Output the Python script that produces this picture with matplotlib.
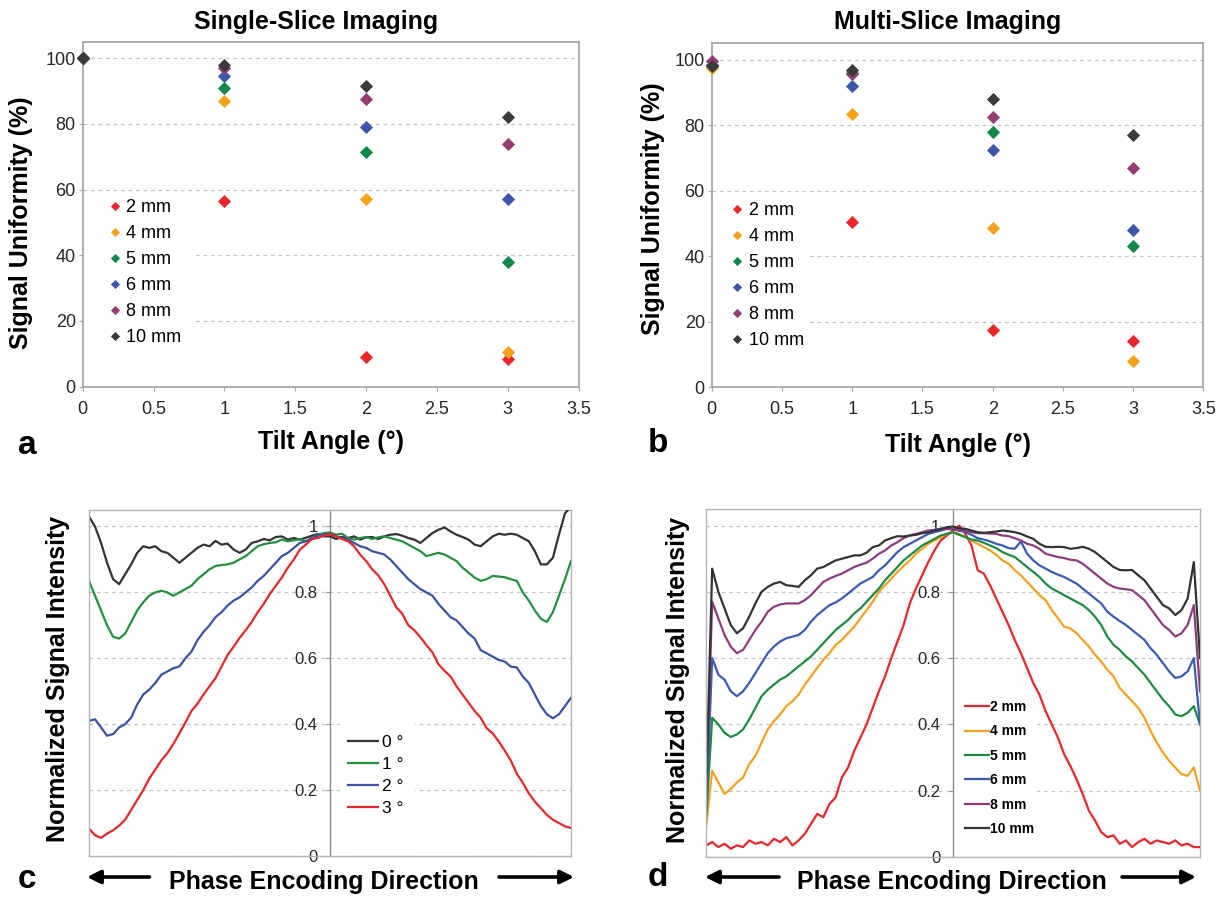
import numpy as np
import matplotlib
matplotlib.use('Agg')
import matplotlib.pyplot as plt
from matplotlib.patches import Rectangle
from matplotlib.ticker import FuncFormatter

plt.rcParams['font.family'] = ['Liberation Sans', 'DejaVu Sans']

W, H = 1229, 900

# ---------------- data: panels a / b (signal uniformity vs tilt) ----------------
tilt = [0, 1, 2, 3]
thickness = ['2 mm', '4 mm', '5 mm', '6 mm', '8 mm', '10 mm']
marker_colors = ['#e8272d', '#f6a11e', '#12874a', '#3c57a8', '#943d73', '#3a3a3a']

single_2mm = [100, 56.5, 9.0, 8.5]
single_4mm = [100, 87.0, 57.0, 10.5]
single_5mm = [100, 91.0, 71.5, 38.0]
single_6mm = [100, 94.5, 79.0, 57.0]
single_8mm = [100, 97.0, 87.5, 74.0]
single_10mm = [100, 98.0, 91.5, 82.0]

multi_2mm = [98.0, 50.5, 17.5, 14.0]
multi_4mm = [97.5, 83.5, 48.5, 8.0]
multi_5mm = [98.5, 96.0, 78.0, 43.0]
multi_6mm = [98.5, 92.0, 72.5, 48.0]
multi_8mm = [99.5, 95.5, 82.5, 67.0]
multi_10mm = [98.0, 97.0, 88.0, 77.0]

single_series = [single_2mm, single_4mm, single_5mm, single_6mm, single_8mm, single_10mm]
multi_series = [multi_2mm, multi_4mm, multi_5mm, multi_6mm, multi_8mm, multi_10mm]

# ---------------- data: panel c (profiles for tilt angles) ----------------
pos = np.arange(-40, 41)  # sample position along phase encoding direction

c_0deg = [1.03, 1.0, 0.95, 0.89, 0.84, 0.825, 0.855, 0.885, 0.92, 0.94,
          0.935, 0.94, 0.925, 0.92, 0.905, 0.89, 0.905, 0.92, 0.935, 0.945,
          0.94, 0.956, 0.945, 0.948, 0.93, 0.92, 0.93, 0.95, 0.955, 0.962,
          0.958, 0.968, 0.97, 0.96, 0.965, 0.96, 0.966, 0.972, 0.977, 0.97,
          0.97,
          0.962, 0.968, 0.965, 0.97, 0.96, 0.967, 0.968, 0.962, 0.97, 0.975,
          0.977, 0.972, 0.965, 0.96, 0.95, 0.965, 0.98, 0.99, 0.997, 0.985,
          0.975, 0.968, 0.96, 0.945, 0.94, 0.955, 0.97, 0.978, 0.975, 0.978,
          0.975, 0.965, 0.955, 0.925, 0.885, 0.885, 0.905, 0.975, 1.04, 1.06]
c_1deg = [0.835, 0.79, 0.745, 0.70, 0.665, 0.66, 0.675, 0.71, 0.745, 0.77,
          0.79, 0.80, 0.805, 0.80, 0.79, 0.80, 0.81, 0.82, 0.84, 0.855,
          0.87, 0.88, 0.883, 0.885, 0.89, 0.90, 0.91, 0.925, 0.94, 0.946,
          0.95, 0.952, 0.96, 0.955, 0.958, 0.962, 0.955, 0.965, 0.975, 0.98,
          0.982,
          0.975, 0.978, 0.965, 0.96, 0.965, 0.968, 0.962, 0.967, 0.97, 0.965,
          0.96, 0.955, 0.945, 0.935, 0.925, 0.91, 0.915, 0.92, 0.915, 0.905,
          0.895, 0.875, 0.86, 0.845, 0.835, 0.84, 0.85, 0.848, 0.846, 0.84,
          0.835, 0.80, 0.775, 0.745, 0.72, 0.71, 0.74, 0.79, 0.84, 0.895]
c_2deg = [0.41, 0.415, 0.39, 0.365, 0.37, 0.39, 0.40, 0.42, 0.46, 0.49,
          0.505, 0.525, 0.55, 0.56, 0.57, 0.575, 0.60, 0.62, 0.655, 0.68,
          0.70, 0.725, 0.74, 0.76, 0.775, 0.785, 0.80, 0.815, 0.835, 0.85,
          0.87, 0.89, 0.91, 0.92, 0.935, 0.95, 0.955, 0.965, 0.972, 0.975,
          0.977,
          0.97, 0.965, 0.96, 0.95, 0.94, 0.935, 0.925, 0.92, 0.915, 0.90,
          0.88, 0.86, 0.84, 0.825, 0.81, 0.80, 0.79, 0.765, 0.745, 0.725,
          0.715, 0.695, 0.675, 0.66, 0.625, 0.615, 0.605, 0.595, 0.59, 0.575,
          0.572, 0.545, 0.525, 0.49, 0.455, 0.43, 0.418, 0.43, 0.455, 0.48]
c_3deg = [0.083, 0.063, 0.055, 0.068, 0.078, 0.092, 0.11, 0.14, 0.17, 0.20,
          0.235, 0.262, 0.29, 0.312, 0.34, 0.372, 0.405, 0.44, 0.462, 0.49,
          0.515, 0.54, 0.575, 0.61, 0.635, 0.662, 0.685, 0.71, 0.74, 0.765,
          0.795, 0.82, 0.845, 0.875, 0.90, 0.93, 0.945, 0.962, 0.965, 0.972,
          0.977,
          0.97, 0.962, 0.955, 0.94, 0.915, 0.895, 0.87, 0.852, 0.825, 0.79,
          0.755, 0.735, 0.70, 0.685, 0.664, 0.64, 0.618, 0.582, 0.562, 0.545,
          0.515, 0.49, 0.465, 0.44, 0.42, 0.388, 0.372, 0.348, 0.32, 0.29,
          0.25, 0.222, 0.19, 0.165, 0.145, 0.125, 0.11, 0.10, 0.09, 0.085]
c_labels = ['0 \u00b0', '1 \u00b0', '2 \u00b0', '3 \u00b0']
c_colors = ['#333333', '#22903f', '#3b52a3', '#e8262c']

# ---------------- data: panel d (profiles for slice thickness) ----------------
d_2mm = [0.035, 0.045, 0.03, 0.04, 0.025, 0.035, 0.03, 0.05, 0.04, 0.045,
         0.035, 0.055, 0.045, 0.06, 0.035, 0.05, 0.07, 0.10, 0.13, 0.12,
         0.16, 0.18, 0.24, 0.27, 0.32, 0.36, 0.40, 0.45, 0.50, 0.545,
         0.60, 0.65, 0.70, 0.765, 0.81, 0.85, 0.89, 0.925, 0.955, 0.97,
         0.985,
         1.0, 0.975, 0.94, 0.865, 0.855, 0.82, 0.78, 0.74, 0.70, 0.655,
         0.615, 0.57, 0.525, 0.49, 0.44, 0.40, 0.36, 0.31, 0.275, 0.235,
         0.19, 0.14, 0.11, 0.075, 0.06, 0.065, 0.04, 0.05, 0.03, 0.045,
         0.055, 0.04, 0.05, 0.045, 0.04, 0.05, 0.035, 0.04, 0.03, 0.03]
d_4mm = [0.09, 0.26, 0.225, 0.19, 0.205, 0.225, 0.24, 0.28, 0.305, 0.345,
         0.385, 0.41, 0.43, 0.455, 0.47, 0.49, 0.52, 0.545, 0.57, 0.595,
         0.615, 0.64, 0.655, 0.675, 0.695, 0.72, 0.745, 0.77, 0.80, 0.82,
         0.84, 0.86, 0.878, 0.895, 0.915, 0.93, 0.945, 0.955, 0.965, 0.975,
         0.98,
         0.975, 0.965, 0.955, 0.945, 0.935, 0.925, 0.912, 0.895, 0.885, 0.865,
         0.85, 0.83, 0.81, 0.79, 0.775, 0.745, 0.72, 0.695, 0.69, 0.675,
         0.655, 0.635, 0.61, 0.59, 0.565, 0.545, 0.51, 0.49, 0.47, 0.45,
         0.42, 0.38, 0.345, 0.315, 0.29, 0.27, 0.25, 0.245, 0.27, 0.20]
d_5mm = [0.11, 0.42, 0.40, 0.375, 0.362, 0.37, 0.385, 0.415, 0.45, 0.485,
         0.505, 0.52, 0.535, 0.545, 0.56, 0.575, 0.59, 0.605, 0.625, 0.645,
         0.665, 0.685, 0.70, 0.715, 0.735, 0.75, 0.77, 0.79, 0.81, 0.835,
         0.855, 0.875, 0.895, 0.91, 0.925, 0.94, 0.95, 0.96, 0.97, 0.975,
         0.98,
         0.972, 0.965, 0.958, 0.955, 0.948, 0.94, 0.932, 0.92, 0.912, 0.905,
         0.89, 0.875, 0.86, 0.845, 0.825, 0.81, 0.80, 0.79, 0.78, 0.77,
         0.76, 0.745, 0.725, 0.70, 0.665, 0.64, 0.625, 0.605, 0.59, 0.57,
         0.55, 0.525, 0.50, 0.475, 0.455, 0.43, 0.425, 0.435, 0.455, 0.40]
d_6mm = [0.13, 0.60, 0.55, 0.535, 0.50, 0.485, 0.50, 0.525, 0.555, 0.585,
         0.615, 0.635, 0.65, 0.66, 0.665, 0.67, 0.685, 0.71, 0.73, 0.745,
         0.76, 0.768, 0.78, 0.795, 0.81, 0.825, 0.835, 0.845, 0.865, 0.88,
         0.90, 0.92, 0.935, 0.945, 0.955, 0.965, 0.975, 0.98, 0.985, 0.99,
         0.99,
         0.985, 0.98, 0.972, 0.962, 0.958, 0.952, 0.945, 0.94, 0.932, 0.93,
         0.952, 0.915, 0.895, 0.88, 0.87, 0.86, 0.852, 0.845, 0.835, 0.825,
         0.81, 0.795, 0.78, 0.765, 0.74, 0.725, 0.712, 0.70, 0.685, 0.67,
         0.655, 0.63, 0.61, 0.585, 0.56, 0.54, 0.545, 0.56, 0.60, 0.40]
d_8mm = [0.19, 0.77, 0.72, 0.67, 0.635, 0.615, 0.625, 0.655, 0.685, 0.71,
         0.74, 0.755, 0.762, 0.765, 0.765, 0.765, 0.775, 0.79, 0.81, 0.83,
         0.84, 0.848, 0.855, 0.865, 0.875, 0.882, 0.888, 0.90, 0.915, 0.925,
         0.94, 0.95, 0.962, 0.97, 0.975, 0.98, 0.985, 0.987, 0.99, 0.99,
         0.988,
         0.985, 0.985, 0.98, 0.977, 0.977, 0.976, 0.975, 0.97, 0.968, 0.962,
         0.955, 0.945, 0.94, 0.93, 0.915, 0.91, 0.905, 0.902, 0.897, 0.895,
         0.885, 0.87, 0.855, 0.84, 0.825, 0.815, 0.81, 0.808, 0.805, 0.79,
         0.775, 0.75, 0.725, 0.70, 0.685, 0.665, 0.675, 0.70, 0.76, 0.50]
d_10mm = [0.18, 0.87, 0.80, 0.75, 0.70, 0.675, 0.69, 0.725, 0.765, 0.80,
          0.815, 0.825, 0.83, 0.82, 0.818, 0.815, 0.835, 0.85, 0.87, 0.875,
          0.885, 0.895, 0.90, 0.905, 0.91, 0.91, 0.918, 0.935, 0.94, 0.955,
          0.962, 0.968, 0.967, 0.97, 0.972, 0.977, 0.98, 0.985, 0.99, 0.995,
          0.997,
          0.992, 0.99, 0.985, 0.98, 0.978, 0.98, 0.982, 0.985, 0.983, 0.98,
          0.975, 0.967, 0.96, 0.945, 0.936, 0.935, 0.936, 0.935, 0.93, 0.932,
          0.936, 0.93, 0.92, 0.905, 0.89, 0.875, 0.866, 0.865, 0.866, 0.85,
          0.835, 0.81, 0.785, 0.76, 0.75, 0.73, 0.745, 0.78, 0.89, 0.60]
d_series = [d_2mm, d_4mm, d_5mm, d_6mm, d_8mm, d_10mm]
d_colors = ['#e8262c', '#f7a01f', '#1c8c42', '#3a5bb5', '#8f3b7f', '#333333']

# ---------------- figure ----------------
fig = plt.figure(figsize=(W / 100, H / 100), dpi=100)


def frac(x, y):
    return x / W, 1 - y / H


frame_col = '#a8a8a8'
grid_kw = dict(color='#c4c4c4', linestyle=(0, (3, 3)), linewidth=0.9)
fmt = FuncFormatter(lambda v, p: '%g' % v)


def scatter_panel(rect, series, title, title_x, ylab_xy, xlab_xy, leg_xy, cover_w):
    ax = fig.add_axes(rect)
    for vals, lab, col in zip(series, thickness, marker_colors):
        ax.plot(tilt, vals, linestyle='none', marker='D', ms=5.9, color=col,
                markeredgecolor=col, markeredgewidth=0.6, label=lab, clip_on=False, zorder=3)
    ax.set_xlim(0, 3.5)
    ax.set_ylim(0, 105)
    ax.set_xticks(np.arange(0, 3.51, 0.5))
    ax.set_yticks([0, 20, 40, 60, 80, 100])
    ax.xaxis.set_major_formatter(fmt)
    ax.yaxis.grid(True, **grid_kw)
    ax.set_axisbelow(True)
    for s in ax.spines.values():
        s.set_color(frame_col)
        s.set_linewidth(1.3)
    ax.tick_params(axis='both', direction='out', length=3, color=frame_col,
                   labelsize=13, labelcolor='#262626')
    ax.tick_params(axis='x', pad=7)
    ax.tick_params(axis='y', pad=2)
    ax.add_patch(Rectangle((0, 0.01), cover_w, 0.545, transform=ax.transAxes,
                           facecolor='white', edgecolor='none', zorder=1))
    ax.set_ylabel('Signal Uniformity (%)', fontsize=18, fontweight='bold')
    ax.yaxis.label.set_va('center')
    ax.yaxis.set_label_coords(*ylab_xy)
    ax.set_xlabel('Tilt Angle (\u00b0)', fontsize=18, fontweight='bold')
    ax.xaxis.label.set_va('center')
    ax.xaxis.set_label_coords(*xlab_xy)
    ax.legend(loc='upper left', bbox_to_anchor=leg_xy, frameon=False, fontsize=13,
              handlelength=0.8, handletextpad=0.25, labelspacing=0.5, borderpad=0,
              borderaxespad=0, markerscale=0.72)
    tx, ty = frac(title_x, 22)
    fig.text(tx, ty, title, ha='center', va='center', fontsize=18, fontweight='bold')
    return ax


scatter_panel([82.7 / W, 1 - 386.7 / H, 495.9 / W, 345 / H], single_series,
              'Single-Slice Imaging', 316.5, (-0.124, 0.4745), (0.5, -0.160),
              (0.05, 0.544), 0.224)
scatter_panel([711.7 / W, 1 - 387.3 / H, 491.7 / W, 344 / H], multi_series,
              'Multi-Slice Imaging', 948, (-0.12, 0.518), (0.5, -0.168),
              (0.037, 0.539), 0.2)


def profile_panel(rect, series, labels, colors, ylab_xy, xlab_xy, leg_xy, leg_kw,
                  cover, arrows):
    ax = fig.add_axes(rect)
    for vals, lab, col in zip(series, labels, colors):
        ax.plot(pos, vals, color=col, lw=1.6, label=lab, zorder=3)
    ax.set_xlim(-40, 40)
    ax.set_ylim(0, 1.05)
    ax.set_xticks([])
    ax.set_yticks([0, 0.2, 0.4, 0.6, 0.8, 1.0])
    ax.yaxis.set_major_formatter(fmt)
    ax.yaxis.grid(True, **grid_kw)
    ax.set_axisbelow(True)
    for s in ax.spines.values():
        s.set_color('#b4b4b4')
        s.set_linewidth(1.0)
    ax.spines['left'].set_position(('data', 0))
    ax.spines['left'].set_color('#8c8c8c')
    ax.plot([0, 0], [0, 1], transform=ax.transAxes, color='#b4b4b4', lw=1.0,
            clip_on=False, zorder=4)
    ax.tick_params(axis='y', direction='out', length=3, color='#8c8c8c', pad=6,
                   labelsize=12, labelcolor='#262626')
    ax.add_patch(Rectangle((cover[0], 0.02), cover[1] - cover[0], cover[2],
                           transform=ax.transAxes, facecolor='white',
                           edgecolor='none', zorder=1))
    ax.set_ylabel('Normalized Signal Intensity', fontsize=18, fontweight='bold')
    ax.yaxis.label.set_va('center')
    ax.yaxis.set_label_coords(*ylab_xy)
    ax.set_xlabel('Phase Encoding Direction', fontsize=18, fontweight='bold')
    ax.xaxis.label.set_va('center')
    ax.xaxis.set_label_coords(*xlab_xy)
    ax.legend(loc='upper left', bbox_to_anchor=leg_xy, frameon=False,
              borderpad=0, borderaxespad=0, **leg_kw)
    for x0, x1 in arrows:
        ax.annotate('', xy=(x1, H - 877), xytext=(x0, H - 877),
                    xycoords='figure pixels', textcoords='figure pixels',
                    arrowprops=dict(arrowstyle='-|>', lw=2.6, color='black',
                                    mutation_scale=20, shrinkA=0, shrinkB=0))
    return ax


profile_panel([89 / W, 1 - 856 / H, 482 / W, 346 / H], [c_0deg, c_1deg, c_2deg, c_3deg],
              c_labels, c_colors, (-0.064, 0.513), (0.4876, -0.075), (0.5365, 0.35),
              dict(fontsize=12.5, handlelength=1.78, handletextpad=0.23, labelspacing=0.4),
              (0.52, 0.676, 0.38), [(149.5, 87), (499, 574)])
profile_panel([706 / W, 1 - 857 / H, 494 / W, 348 / H], d_series,
              thickness, d_colors, (-0.057, 0.509), (0.498, -0.072), (0.524, 0.451),
              dict(prop={'size': 10, 'weight': 'bold'}, handlelength=1.73,
                   handletextpad=0.1, labelspacing=0.75),
              (0.5, 0.67, 0.445), [(779, 705), (1122, 1196)])

# panel letters
for letter, (lx, ly) in zip('abcd', [(27, 445), (658, 443), (27, 880), (658, 878)]):
    fx, fy = frac(lx, ly)
    fig.text(fx, fy, letter, ha='center', va='center', fontsize=24, fontweight='bold')

fig.savefig('out.png', dpi=100, facecolor='white')
